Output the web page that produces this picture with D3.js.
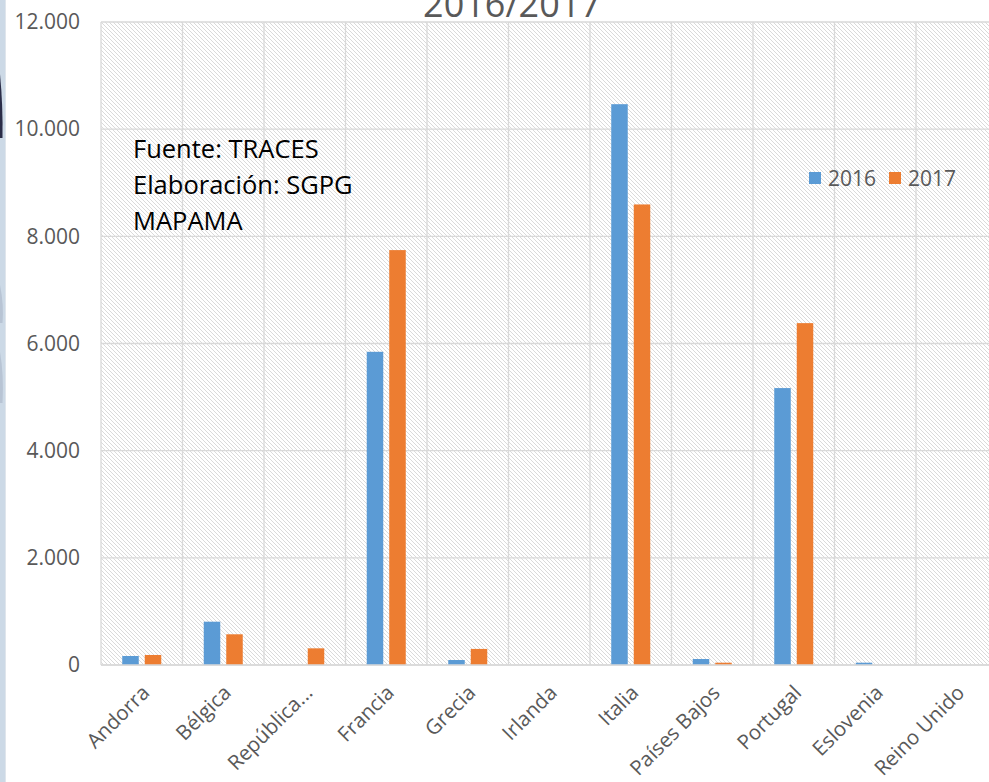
<!DOCTYPE html>
<html>
<head>
<meta charset="utf-8">
<script src="https://cdn.jsdelivr.net/npm/d3@7"></script>
<style>
  html, body { margin: 0; padding: 0; background: #fff; }
  svg { display: block; font-family: "Open Sans", "Noto Sans", sans-serif; }
</style>
</head>
<body>
<svg id="chart" width="989" height="782"></svg>
<script>
// Exports by destination country, 2016 vs 2017
const categories = ["Andorra", "Bélgica", "República...", "Francia", "Grecia", "Irlanda",
                    "Italia", "Países Bajos", "Portugal", "Eslovenia", "Reino Unido"];
const seriesNames = ["2016", "2017"];
const values2016 = [168, 808, 0, 5845, 93, 0, 10466, 112, 5168, 43, 0];
const values2017 = [187, 573, 311, 7743, 300, 0, 8595, 43, 6380, 0, 0];
const yTicks = [0, 2000, 4000, 6000, 8000, 10000, 12000];
const titleText = "2016/2017";
const noteLines = ["Fuente: TRACES", "Elaboración: SGPG", "MAPAMA"];

const colors = { "2016": "#5b9bd5", "2017": "#ed7d31" };
const svg = d3.select("#chart");
const W = 989, H = 782;
const margin = { left: 101, top: 22, right: -8.5, bottom: 117 };
const plotW = W - margin.left - margin.right;
const plotH = H - margin.top - margin.bottom;

// slide edge behind the chart
svg.append("rect").attr("x", 0).attr("y", 0).attr("width", 5).attr("height", H).attr("fill", "#ccd9e6");
svg.append("rect").attr("x", 5).attr("y", 0).attr("width", 1).attr("height", H).attr("fill", "#dfe5ec");
svg.append("path").attr("d", "M0,74 Q3,105 2.5,138 L0,138 Z").attr("fill", "#2b2d48");
svg.append("path").attr("d", "M0,285 Q4,305 2.5,323 L0,323 Z").attr("fill", "#aab5c8").attr("opacity", 0.6);
svg.append("path").attr("d", "M0,352 Q4,375 2.5,403 L0,403 Z").attr("fill", "#aab5c8").attr("opacity", 0.6);

const defs = svg.append("defs");
const pat = defs.append("pattern").attr("id", "hatch").attr("patternUnits", "userSpaceOnUse")
  .attr("width", 4).attr("height", 4);
pat.append("path").attr("d", "M-1,-1 L5,5 M-1,3 L1,5 M3,-1 L5,1")
  .attr("stroke", "#dadada").attr("stroke-width", 1);

const g = svg.append("g").attr("transform", `translate(${margin.left},${margin.top})`);

const x0 = d3.scaleBand().domain(categories).range([0, plotW]).paddingInner(0).paddingOuter(0);
const x1 = d3.scaleBand().domain(seriesNames).range([0, x0.bandwidth()])
  .paddingInner(0.267).paddingOuter(0.944);
const y = d3.scaleLinear().domain([0, 12000]).range([plotH, 0]);

// hatched plot background
g.append("rect").attr("width", plotW).attr("height", plotH).attr("fill", "url(#hatch)");

// horizontal gridlines
g.append("g").selectAll("line").data(yTicks).join("line")
  .attr("x1", 0).attr("x2", plotW)
  .attr("y1", d => y(d)).attr("y2", d => y(d))
  .attr("stroke", "#d9d9d9").attr("stroke-width", 1.3);

// vertical category gridlines
const bounds = categories.map(c => x0(c)).concat([plotW]);
g.append("g").selectAll("line").data(bounds).join("line")
  .attr("x1", d => d).attr("x2", d => d)
  .attr("y1", 0).attr("y2", plotH)
  .attr("stroke", "#d9d9d9").attr("stroke-width", 1.3);

// y axis labels
const yAxis = d3.axisLeft(y).tickValues(yTicks).tickSize(0).tickPadding(21)
  .tickFormat(d => d3.format(",")(d).replace(/,/g, "."));
const ya = g.append("g").call(yAxis);
ya.select(".domain").remove();
ya.selectAll("text").attr("fill", "#595959").attr("font-size", 21)
  .attr("font-family", "'Open Sans', sans-serif");

// bars
const rows = categories.map((c, i) => ({ cat: c, vals: [values2016[i], values2017[i]] }));
const groups = g.append("g").selectAll("g").data(rows).join("g")
  .attr("transform", d => `translate(${x0(d.cat)},0)`);
groups.selectAll("rect").data(d => seriesNames.map((s, k) => ({ s, v: d.vals[k] })))
  .join("rect")
  .attr("x", d => x1(d.s)).attr("width", x1.bandwidth())
  .attr("y", d => y(d.v)).attr("height", d => plotH - y(d.v))
  .attr("fill", d => colors[d.s]);

// x axis line
g.append("line").attr("x1", 0).attr("x2", plotW).attr("y1", plotH).attr("y2", plotH)
  .attr("stroke", "#d9d9d9").attr("stroke-width", 1.5);

// x axis labels, rotated
const xAxis = d3.axisBottom(x0).tickSize(0).tickPadding(0);
const xa = g.append("g").attr("transform", `translate(0,${plotH})`).call(xAxis);
xa.select(".domain").remove();
xa.selectAll("text")
  .attr("fill", "#595959").attr("font-size", 20.5).attr("font-family", "'Open Sans', sans-serif")
  .attr("text-anchor", "end").attr("dy", null).attr("y", 0)
  .attr("transform", "translate(9,29) rotate(-45)");

// title (runs off the top edge)
svg.append("text").attr("x", 512).attr("y", 17).attr("text-anchor", "middle")
  .attr("fill", "#595959").attr("font-size", 36).text(titleText);

// source note
const note = svg.append("text").attr("fill", "#000").attr("font-size", 25.5);
noteLines.forEach((t, i) => {
  note.append("tspan").attr("x", 133).attr("y", 158 + i * 36).text(t);
});

// legend
const legend = svg.append("g").attr("transform", "translate(809,172)");
const li = legend.selectAll("g").data(seriesNames).join("g")
  .attr("transform", (d, i) => `translate(${i * 80},0)`);
li.append("rect").attr("width", 12).attr("height", 12).attr("fill", d => colors[d]);
li.append("text").attr("x", 19).attr("y", 14).attr("fill", "#595959").attr("font-size", 21).text(d => d);
</script>
</body>
</html>
